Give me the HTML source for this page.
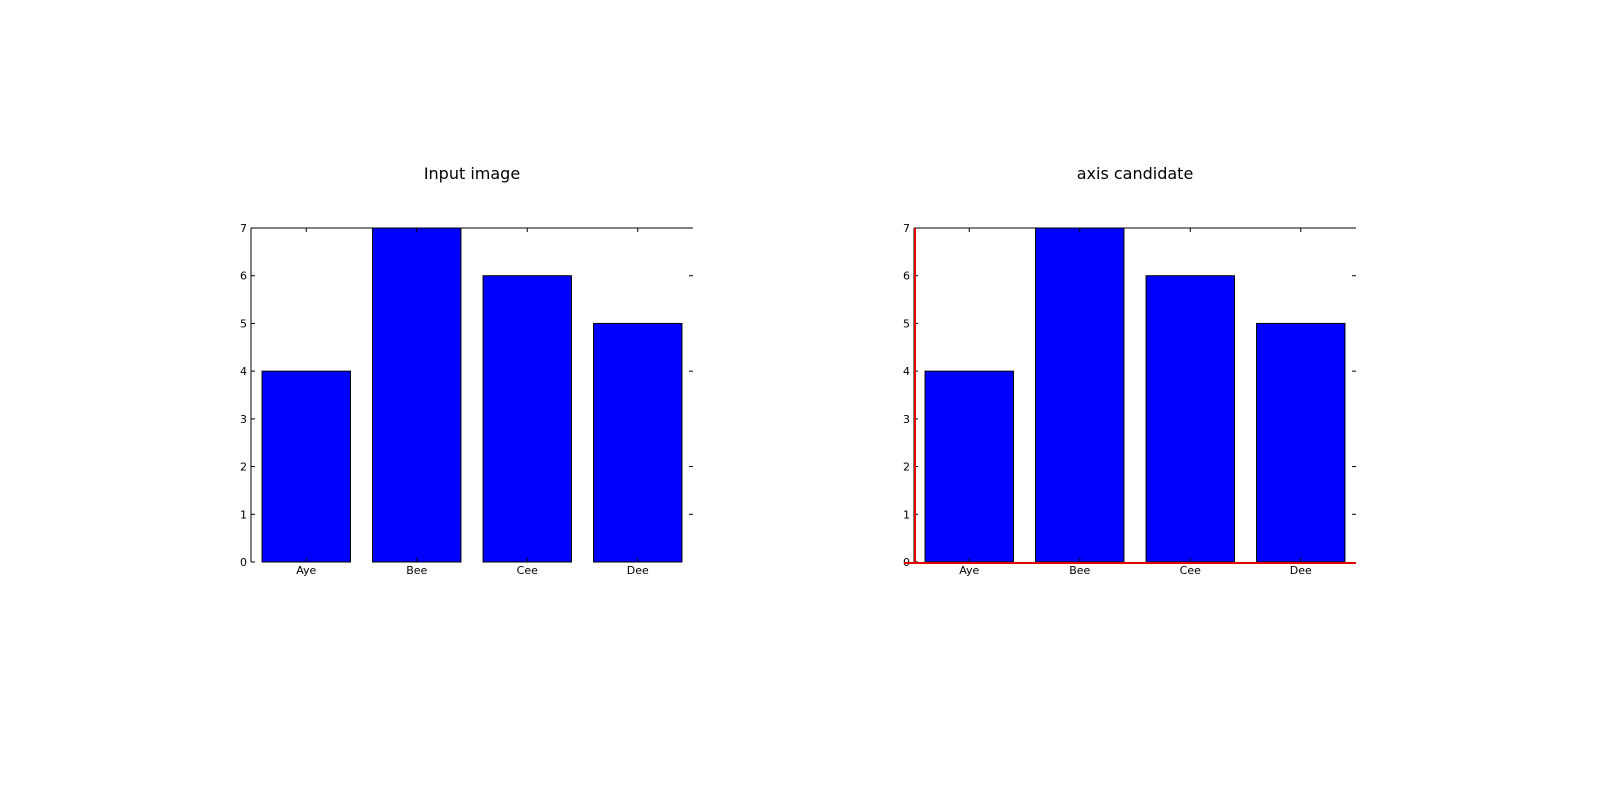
<!DOCTYPE html>
<html><head><meta charset="utf-8"><style>
body{margin:0;background:#fff;}
svg text{font-family:"DejaVu Sans","Liberation Sans",sans-serif;}
</style></head><body>
<svg width="1600" height="800" xmlns="http://www.w3.org/2000/svg">
<g id="root"></g>
</svg>
<script>
const categories=["Aye","Bee","Cee","Dee"];
const values=[4,7,6,5];
const yTicks=[0,1,2,3,4,5,6,7];
const rightTicks=[1,2,4,6];
const titles=["Input image","axis candidate"];
const NS="http://www.w3.org/2000/svg";
const root=document.getElementById('root');
function mk(t,a,p){const e=document.createElementNS(NS,t);for(const k in a)e.setAttribute(k,a[k]);(p||root).appendChild(e);return e;}
const panels=[251,914];
panels.forEach((x0,pi)=>{
  const top=228,bot=562,w=442;
  const g=mk('g',{});
  
  
  const xs=v=>x0+v/4*w;
  const ys=v=>bot-v/7*(bot-top);
  const t=mk('text',{x:x0+w/2,y:179,'text-anchor':'middle','font-size':16},g);
  t.textContent=titles[pi];
  
  
  categories.forEach((c,i)=>{
    const r=mk('rect',{x:xs(i+0.1),y:ys(values[i]),width:xs(i+0.9)-xs(i+0.1),height:ys(0)-ys(values[i]),fill:'#0000ff',stroke:'#000','stroke-width':1},g);
    
    
    const l=mk('text',{x:xs(i+0.5),y:bot+12,'text-anchor':'middle','font-size':11},g);
    l.textContent=c;
    
    
    mk('line',{x1:xs(i+0.5),x2:xs(i+0.5),y1:top,y2:top+4,stroke:'#000'},g);
    mk('line',{x1:xs(i+0.5),x2:xs(i+0.5),y1:bot,y2:bot-4,stroke:'#000'},g);
  });
  yTicks.forEach(v=>{
    const l=mk('text',{x:x0-4,y:ys(v)+4,'text-anchor':'end','font-size':11},g);
    l.textContent=v;
    
    
    mk('line',{x1:x0,x2:x0+4,y1:ys(v),y2:ys(v),stroke:'#000'},g);
  });
  rightTicks.forEach(v=>mk('line',{x1:x0+w-4,x2:x0+w,y1:ys(v),y2:ys(v),stroke:'#000'},g));
  mk('line',{x1:x0,x2:x0+w,y1:top,y2:top,stroke:'#000','stroke-width':1},g);
  mk('line',{x1:x0,x2:x0,y1:top,y2:bot,stroke:'#000','stroke-width':1},g);
  if(pi===1){
    const a=mk('line',{x1:x0+1,x2:x0+1,y1:top,y2:bot,stroke:'#e00000','stroke-width':2},g);
    
    
    const b=mk('line',{x1:x0-10,x2:x0+w,y1:bot+1,y2:bot+1,stroke:'#e00000','stroke-width':2},g);
    
    
  }
});
</script>
</body></html>
